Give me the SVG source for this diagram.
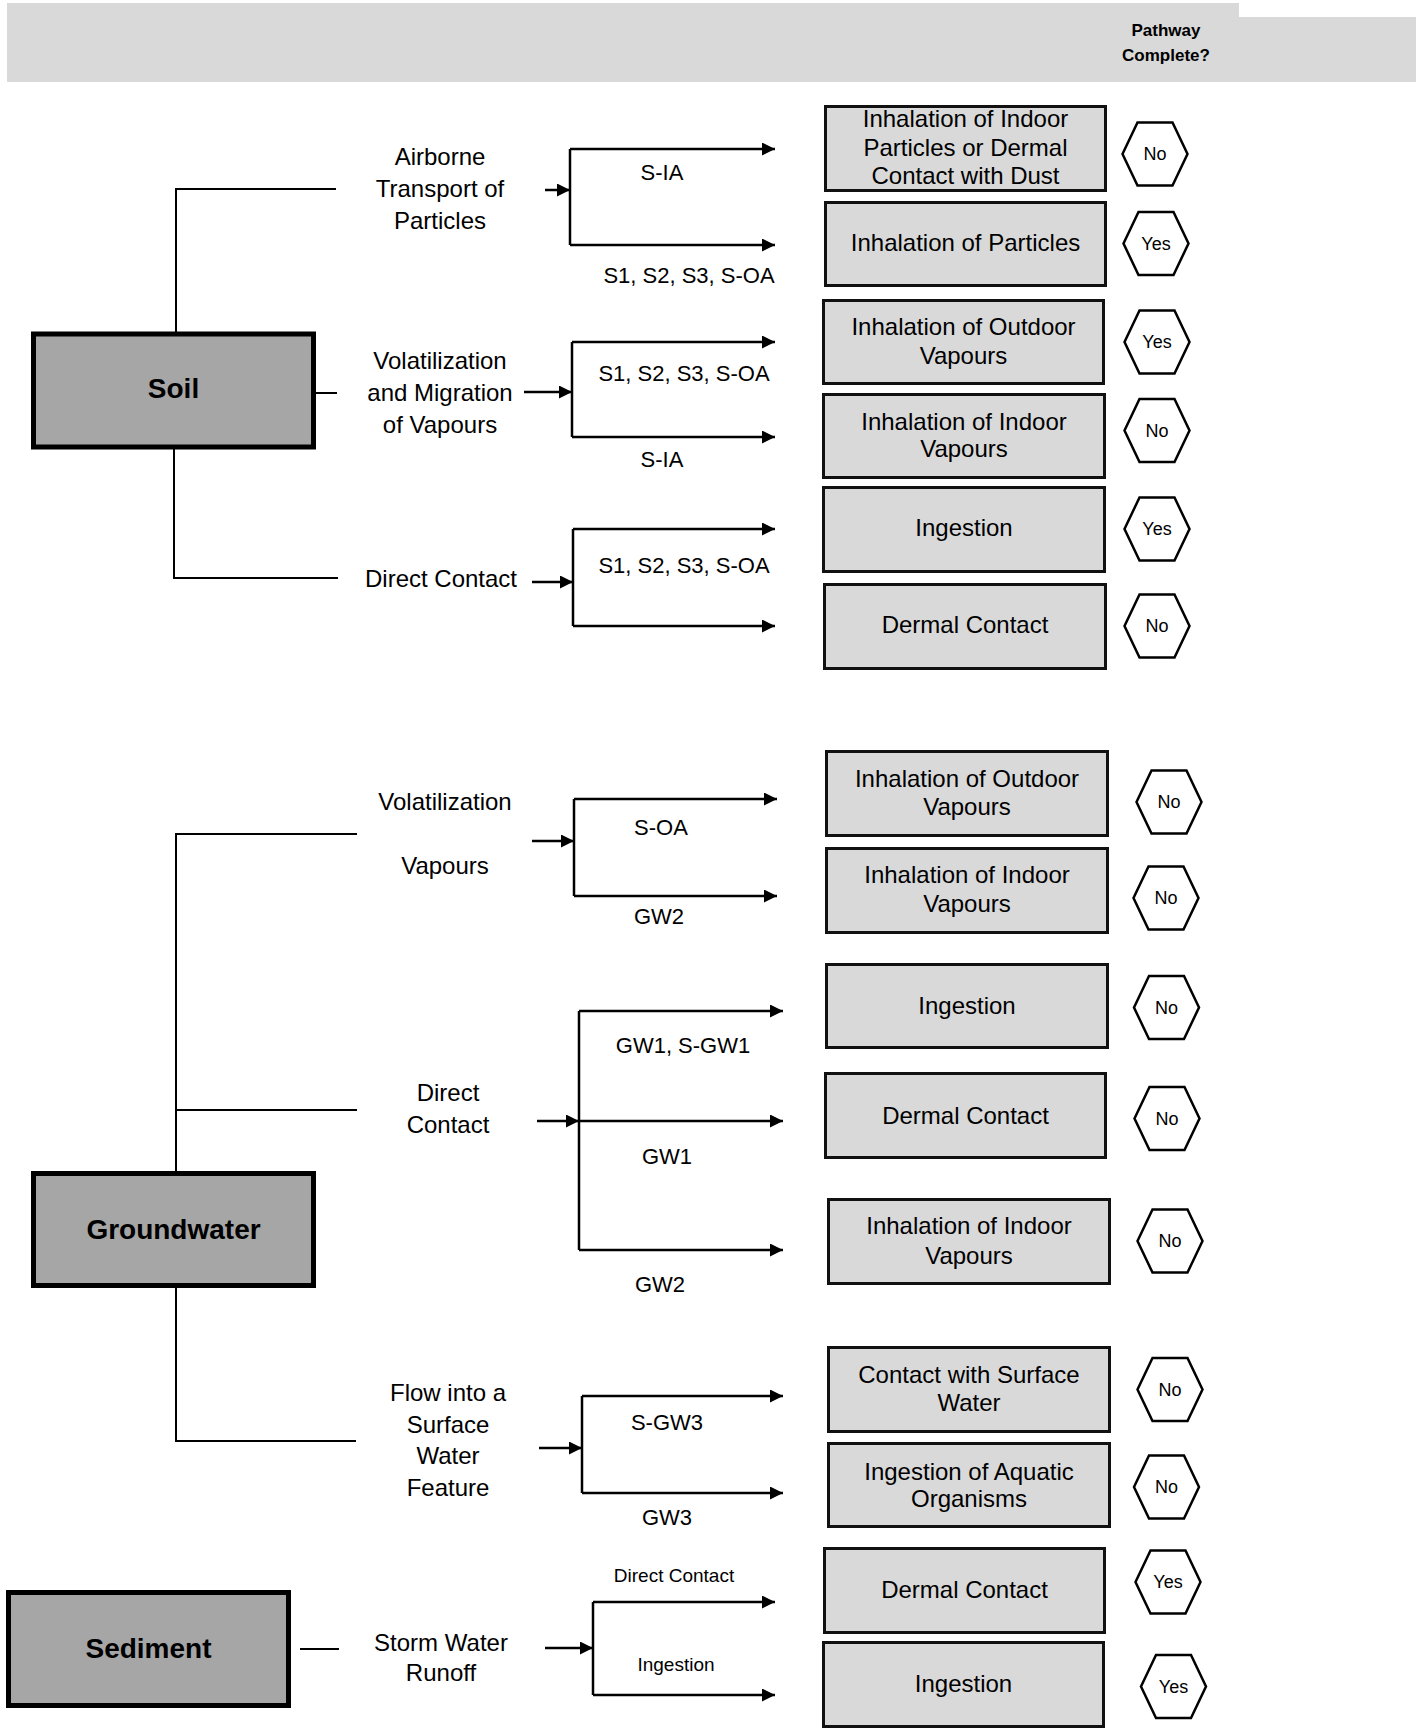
<svg xmlns="http://www.w3.org/2000/svg" width="1416" height="1733" viewBox="0 0 1416 1733">
<defs>
<marker id="ah" markerUnits="userSpaceOnUse" markerWidth="14" markerHeight="14" refX="13" refY="6.5" orient="auto">
<path d="M0,0 L13,6.5 L0,13 z" fill="#000"/>
</marker>
<polygon id="hex" points="-32.5,0 -17.5,-31.5 17.5,-31.5 32.5,0 17.5,31.5 -17.5,31.5"/>
</defs>
<style>
text{font-family:"Liberation Sans",Arial,sans-serif;fill:#000;text-anchor:middle}
.box{fill:#D9D9D9;stroke:#111;stroke-width:3}
.main{fill:#A6A6A6;stroke:#000;stroke-width:5}
.mt{font-size:28px;font-weight:bold}
.bt{font-size:24px}
.pl{font-size:24px}
.cl{font-size:22px}
.sl{font-size:19px}
.hx{fill:#fff;stroke:#000;stroke-width:2.5}
.ht{font-size:18px}
.tree{fill:none;stroke:#000;stroke-width:2}
.br{fill:none;stroke:#000;stroke-width:2.5}
.ar{fill:none;stroke:#000;stroke-width:2.5;marker-end:url(#ah)}
</style>
<g id="header">
<polygon points="7,3 1239,3 1239,17 1416,17 1416,82 7,82" fill="#D9D9D9"/>
<text x="1166" y="36" style="font-size:17px;font-weight:bold">Pathway</text>
<text x="1166" y="61" style="font-size:17px;font-weight:bold">Complete?</text>
</g>
<g id="connectors">
<path class="tree" d="M336,189 H176 V332"/>
<path class="tree" d="M316,393 H337"/>
<path class="tree" d="M174,449 V578 H338"/>
<path class="tree" d="M357,834 H176 V1171"/>
<path class="tree" d="M176,1110 H357"/>
<path class="tree" d="M176,1288 V1441 H356"/>
<path class="tree" d="M300,1649 H339"/>
<path class="ar" d="M545,190 H570"/>
<path class="br" d="M570,149 V245"/>
<path class="ar" d="M570,149 H775"/>
<path class="ar" d="M570,245 H775"/>
<path class="ar" d="M524,392 H572"/>
<path class="br" d="M572,342 V437"/>
<path class="ar" d="M572,342 H775"/>
<path class="ar" d="M572,437 H775"/>
<path class="ar" d="M532,582 H573"/>
<path class="br" d="M573,529 V626"/>
<path class="ar" d="M573,529 H775"/>
<path class="ar" d="M573,626 H775"/>
<path class="ar" d="M532,841 H574"/>
<path class="br" d="M574,799 V896"/>
<path class="ar" d="M574,799 H777"/>
<path class="ar" d="M574,896 H777"/>
<path class="ar" d="M537,1121 H579"/>
<path class="br" d="M579,1011 V1250"/>
<path class="ar" d="M579,1011 H783"/>
<path class="ar" d="M579,1121 H783"/>
<path class="ar" d="M579,1250 H783"/>
<path class="ar" d="M539,1448 H582"/>
<path class="br" d="M582,1396 V1493"/>
<path class="ar" d="M582,1396 H783"/>
<path class="ar" d="M582,1493 H783"/>
<path class="ar" d="M545,1648 H593"/>
<path class="br" d="M593,1602 V1695"/>
<path class="ar" d="M593,1602 H775"/>
<path class="ar" d="M593,1695 H775"/>
</g>
<g id="soil"><rect class="main" x="33.5" y="334" width="280" height="113"/><text class="mt" x="173.5" y="398">Soil</text></g>
<g id="groundwater"><rect class="main" x="33.5" y="1173.5" width="280" height="112"/><text class="mt" x="173.5" y="1239">Groundwater</text></g>
<g id="sediment"><rect class="main" x="8.5" y="1592.5" width="280" height="113"/><text class="mt" x="148.5" y="1658">Sediment</text></g>
<g id="pathway-labels">
<text class="pl" x="440" y="165">Airborne</text>
<text class="pl" x="440" y="197">Transport of</text>
<text class="pl" x="440" y="229">Particles</text>
<text class="pl" x="440" y="369">Volatilization</text>
<text class="pl" x="440" y="401">and Migration</text>
<text class="pl" x="440" y="433">of Vapours</text>
<text class="pl" x="441" y="587">Direct Contact</text>
<text class="pl" x="445" y="810">Volatilization</text>
<text class="pl" x="445" y="874">Vapours</text>
<text class="pl" x="448" y="1101">Direct</text>
<text class="pl" x="448" y="1133">Contact</text>
<text class="pl" x="448" y="1401">Flow into a</text>
<text class="pl" x="448" y="1433">Surface</text>
<text class="pl" x="448" y="1464">Water</text>
<text class="pl" x="448" y="1496">Feature</text>
<text class="pl" x="441" y="1651">Storm Water</text>
<text class="pl" x="441" y="1681">Runoff</text>
</g>
<g id="code-labels">
<text class="cl" x="662" y="180">S-IA</text>
<text class="cl" x="689" y="283">S1, S2, S3, S-OA</text>
<text class="cl" x="684" y="381">S1, S2, S3, S-OA</text>
<text class="cl" x="662" y="467">S-IA</text>
<text class="cl" x="684" y="573">S1, S2, S3, S-OA</text>
<text class="cl" x="661" y="835">S-OA</text>
<text class="cl" x="659" y="924">GW2</text>
<text class="cl" x="683" y="1053">GW1, S-GW1</text>
<text class="cl" x="667" y="1164">GW1</text>
<text class="cl" x="660" y="1292">GW2</text>
<text class="cl" x="667" y="1430">S-GW3</text>
<text class="cl" x="667" y="1525">GW3</text>
<text class="sl" x="674" y="1582">Direct Contact</text>
<text class="sl" x="676" y="1671">Ingestion</text>
</g>
<g id="r1"><rect class="box" x="825.5" y="106.5" width="280" height="84"/><text class="bt" x="965.5" y="127">Inhalation of Indoor</text><text class="bt" x="965.5" y="156">Particles or Dermal</text><text class="bt" x="965.5" y="184">Contact with Dust</text></g>
<g id="r2"><rect class="box" x="825.5" y="202.5" width="280" height="83"/><text class="bt" x="965.5" y="251">Inhalation of Particles</text></g>
<g id="r3"><rect class="box" x="823.5" y="300.5" width="280" height="83"/><text class="bt" x="963.5" y="335">Inhalation of Outdoor</text><text class="bt" x="963.5" y="364">Vapours</text></g>
<g id="r4"><rect class="box" x="823.5" y="394.5" width="281" height="83"/><text class="bt" x="964" y="430">Inhalation of Indoor</text><text class="bt" x="964" y="457">Vapours</text></g>
<g id="r5"><rect class="box" x="823.5" y="487.5" width="281" height="84"/><text class="bt" x="964" y="536">Ingestion</text></g>
<g id="r6"><rect class="box" x="824.5" y="584.5" width="281" height="84"/><text class="bt" x="965" y="633">Dermal Contact</text></g>
<g id="g1"><rect class="box" x="826.5" y="751.5" width="281" height="84"/><text class="bt" x="967" y="787">Inhalation of Outdoor</text><text class="bt" x="967" y="815">Vapours</text></g>
<g id="g2"><rect class="box" x="826.5" y="848.5" width="281" height="84"/><text class="bt" x="967" y="883">Inhalation of Indoor</text><text class="bt" x="967" y="912">Vapours</text></g>
<g id="g3"><rect class="box" x="826.5" y="964.5" width="281" height="83"/><text class="bt" x="967" y="1014">Ingestion</text></g>
<g id="g4"><rect class="box" x="825.5" y="1073.5" width="280" height="84"/><text class="bt" x="965.5" y="1124">Dermal Contact</text></g>
<g id="g5"><rect class="box" x="828.5" y="1199.5" width="281" height="84"/><text class="bt" x="969" y="1234">Inhalation of Indoor</text><text class="bt" x="969" y="1264">Vapours</text></g>
<g id="g6"><rect class="box" x="828.5" y="1347.5" width="281" height="84"/><text class="bt" x="969" y="1383">Contact with Surface</text><text class="bt" x="969" y="1411">Water</text></g>
<g id="g7"><rect class="box" x="828.5" y="1443.5" width="281" height="83"/><text class="bt" x="969" y="1480">Ingestion of Aquatic</text><text class="bt" x="969" y="1507">Organisms</text></g>
<g id="d1"><rect class="box" x="824.5" y="1548.5" width="280" height="84"/><text class="bt" x="964.5" y="1598">Dermal Contact</text></g>
<g id="d2"><rect class="box" x="823.5" y="1642.5" width="280" height="84"/><text class="bt" x="963.5" y="1692">Ingestion</text></g>
<g id="h1" transform="translate(1155,154)"><use href="#hex" class="hx"/><text class="ht" y="6">No</text></g>
<g id="h2" transform="translate(1156,243.5)"><use href="#hex" class="hx"/><text class="ht" y="6">Yes</text></g>
<g id="h3" transform="translate(1157,342)"><use href="#hex" class="hx"/><text class="ht" y="6">Yes</text></g>
<g id="h4" transform="translate(1157,430.5)"><use href="#hex" class="hx"/><text class="ht" y="6">No</text></g>
<g id="h5" transform="translate(1157,529)"><use href="#hex" class="hx"/><text class="ht" y="6">Yes</text></g>
<g id="h6" transform="translate(1157,626)"><use href="#hex" class="hx"/><text class="ht" y="6">No</text></g>
<g id="h7" transform="translate(1169,802)"><use href="#hex" class="hx"/><text class="ht" y="6">No</text></g>
<g id="h8" transform="translate(1166,898)"><use href="#hex" class="hx"/><text class="ht" y="6">No</text></g>
<g id="h9" transform="translate(1166.5,1007.5)"><use href="#hex" class="hx"/><text class="ht" y="6">No</text></g>
<g id="h10" transform="translate(1167,1118.5)"><use href="#hex" class="hx"/><text class="ht" y="6">No</text></g>
<g id="h11" transform="translate(1170,1241)"><use href="#hex" class="hx"/><text class="ht" y="6">No</text></g>
<g id="h12" transform="translate(1170,1389.5)"><use href="#hex" class="hx"/><text class="ht" y="6">No</text></g>
<g id="h13" transform="translate(1166.5,1487)"><use href="#hex" class="hx"/><text class="ht" y="6">No</text></g>
<g id="h14" transform="translate(1168,1582)"><use href="#hex" class="hx"/><text class="ht" y="6">Yes</text></g>
<g id="h15" transform="translate(1173.5,1686.5)"><use href="#hex" class="hx"/><text class="ht" y="6">Yes</text></g>
</svg>
